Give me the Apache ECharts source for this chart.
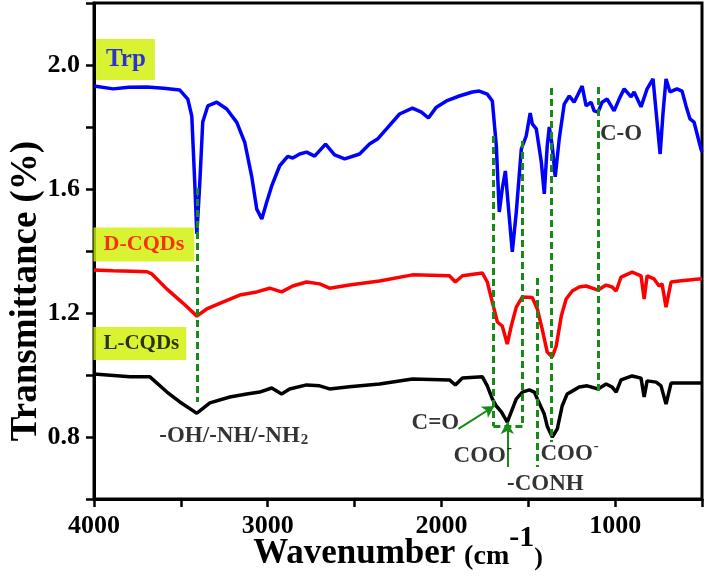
<!DOCTYPE html>
<html><head><meta charset="utf-8">
<script src="https://cdn.jsdelivr.net/npm/echarts@6/dist/echarts.min.js"></script>
<style>html,body{margin:0;padding:0;background:#fff}#c{width:708px;height:578px}</style>
</head><body><div id="c"></div>
<script>
// ---- data ----
const trpWave = [4000,3890,3800,3695,3600,3506,3460,3437,3420,3408,3391,3374,3345,3293,3236,3178,3132,3092,3063,3034,3006,2977,2931,2885,2856,2816,2776,2730,2667,2615,2557,2471,2414,2368,2316,2241,2167,2115,2075,2029,1971,1897,1822,1782,1736,1707,1684,1667,1650,1632,1615,1592,1569,1540,1512,1489,1477,1454,1425,1408,1391,1379,1362,1345,1322,1293,1264,1236,1190,1167,1138,1121,1098,1075,1046,1006,977,948,908,891,851,816,782,764,741,724,707,684,644,615,592,569,546,506,500];
const trpT = [1.932,1.923,1.928,1.929,1.925,1.919,1.89,1.835,1.62,1.455,1.62,1.816,1.868,1.88,1.858,1.815,1.75,1.64,1.535,1.503,1.557,1.61,1.675,1.705,1.70,1.713,1.719,1.706,1.745,1.71,1.697,1.713,1.745,1.761,1.794,1.842,1.861,1.848,1.829,1.864,1.884,1.90,1.913,1.916,1.906,1.884,1.739,1.526,1.60,1.658,1.545,1.397,1.526,1.729,1.771,1.845,1.81,1.794,1.687,1.584,1.739,1.80,1.739,1.639,1.761,1.874,1.90,1.88,1.932,1.868,1.88,1.852,1.848,1.88,1.89,1.852,1.89,1.923,1.897,1.913,1.865,1.923,1.955,1.848,1.713,1.848,1.955,1.913,1.923,1.916,1.868,1.826,1.816,1.729,1.72];
const dWave = [4000,3890,3780,3695,3667,3580,3488,3408,3351,3259,3161,3063,2989,2920,2856,2776,2701,2644,2530,2356,2167,1954,1920,1879,1764,1736,1707,1678,1650,1621,1598,1569,1534,1477,1448,1420,1391,1362,1339,1310,1282,1247,1207,1167,1098,1052,1017,994,966,902,851,833,816,776,747,730,707,678,632,517,500];
const dT = [1.339,1.336,1.335,1.333,1.326,1.277,1.232,1.19,1.213,1.235,1.258,1.268,1.28,1.268,1.287,1.30,1.294,1.28,1.29,1.303,1.323,1.32,1.30,1.32,1.329,1.30,1.235,1.171,1.158,1.10,1.158,1.219,1.252,1.25,1.213,1.148,1.074,1.058,1.094,1.19,1.245,1.271,1.284,1.287,1.274,1.29,1.284,1.271,1.316,1.332,1.32,1.245,1.32,1.31,1.287,1.294,1.219,1.30,1.303,1.31,1.31];
const lWave = [4000,3793,3678,3580,3506,3420,3408,3391,3333,3218,3121,3046,2977,2920,2874,2776,2701,2644,2530,2356,2167,1954,1920,1879,1764,1736,1707,1684,1655,1621,1598,1569,1534,1494,1465,1448,1408,1391,1362,1333,1305,1276,1247,1207,1161,1098,1052,1017,994,966,902,851,833,816,764,736,707,678,632,517,500];
const lT = [1.003,0.994,0.994,0.945,0.913,0.881,0.877,0.884,0.91,0.929,0.939,0.945,0.958,0.939,0.955,0.968,0.965,0.955,0.962,0.971,0.987,0.984,0.968,0.99,0.994,0.965,0.923,0.90,0.881,0.848,0.881,0.923,0.945,0.952,0.945,0.923,0.874,0.835,0.80,0.826,0.90,0.939,0.948,0.961,0.965,0.955,0.971,0.961,0.945,0.984,0.997,0.99,0.929,0.981,0.977,0.965,0.906,0.974,0.974,0.974,0.974];

const xTickLabels = [4000, 3000, 2000, 1000];
const yTickLabels = [0.8, 1.2, 1.6, 2.0];

// dashed band markers: [wavenumber, top value, bottom value]
const bandLines = [[3408,1.603,0.913],[1701,1.771,0.835],[1534,1.755,0.835],[1368,1.926,0.784],[1448,1.313,0.703],[1098,1.929,0.945]];
const bandJoin = [[1701,0.835],[1534,0.835]];
// arrows: [from, to]
const arrowPairs = [[[1902,0.826],[1695,0.90]], [[1621,0.703],[1621,0.848]]];

// sample tags: [name, wavenumber, value, text colour]
const sampleTags = [['Trp',3819,2.018,'#0000ff'],['D-CQDs',3713,1.421,'#ff0000'],['L-CQDs',3736,1.102,'#000000']];
// band annotations: [rich text, wavenumber, value]
const bandTags = [
  ['{m|-OH/-NH/-NH}{sub|2}', 3195, 0.814],
  ['{t|C=O}', 2035, 0.845],
  ['{m|COO}{sup|-}', 1762, 0.745],
  ['{m|COO}{sup|-}', 1262, 0.752],
  ['{t|-CONH}', 1402, 0.648],
  ['{t|C-O}', 966, 1.777]
];

// ---- chart ----
const FONT = '"Times New Roman", "Liberation Serif", serif';
const GREEN = '#178a17';
const zip = (a, b) => a.map((w, i) => [w, b[i]]);
const chart = echarts.init(document.getElementById('c'));

const tagSize = {Trp: 25, 'D-CQDs': 22, 'L-CQDs': 21};
const tagPad = {Trp: [8,9,8,10], 'D-CQDs': [6,10,6,10], 'L-CQDs': [6,7,6,10]};

const markData = bandLines.map(b => [{coord:[b[0], b[1]]},{coord:[b[0], b[2]]}]);
markData.push([{coord: bandJoin[0]}, {coord: bandJoin[1]}]);

const noBorder = {textBorderWidth: 0, textBorderColor: 'transparent', textShadowBlur: 0};

chart.setOption({
  animation: false,
  backgroundColor: '#fff',
  grid: {left: 94, right: 6, top: 3, bottom: 79, show: true, borderColor: '#000', borderWidth: 3,
    containLabel: false, outerBoundsMode: 'none'},
  xAxis: {
    type: 'value', inverse: true, min: 500, max: 4000, interval: 500,
    name: '{a|Wavenumber }{b|(cm}{c|-1}{d|)}', nameLocation: 'middle', nameGap: 24, nameMoveOverlap: false,
    nameTextStyle: {
      fontFamily: FONT, fontWeight: 'bold', color: '#000',
      rich: {
        a: {fontFamily: FONT, fontWeight: 'bold', fontSize: 35, verticalAlign: 'bottom'},
        b: {fontFamily: FONT, fontWeight: 'bold', fontSize: 28, verticalAlign: 'bottom'},
        c: {fontFamily: FONT, fontWeight: 'bold', fontSize: 30, verticalAlign: 'top', padding: [0,0,18,0]},
        d: {fontFamily: FONT, fontWeight: 'bold', fontSize: 26, verticalAlign: 'bottom'}
      }
    },
    axisLine: {show: true, lineStyle: {color: '#000', width: 3}},
    axisTick: {show: true, length: 8, lineStyle: {color: '#000', width: 2.5}},
    axisLabel: {margin: 14, fontFamily: FONT, fontWeight: 'bold', fontSize: 26, color: '#000',
      formatter: v => xTickLabels.includes(Math.round(v)) ? String(Math.round(v)) : ''},
    splitLine: {show: false}
  },
  yAxis: {
    type: 'value', min: 0.6, max: 2.2, interval: 0.2,
    name: 'Transmittance (%)', nameLocation: 'middle', nameGap: 49, nameMoveOverlap: false,
    nameTextStyle: {fontFamily: FONT, fontWeight: 'bold', fontSize: 37, color: '#000', padding: [0, 80, 0, 0]},
    axisLine: {show: true, lineStyle: {color: '#000', width: 3}},
    axisTick: {show: true, length: 8, lineStyle: {color: '#000', width: 2.5}},
    axisLabel: {margin: 14, fontFamily: FONT, fontWeight: 'bold', fontSize: 26, color: '#000',
      formatter: v => yTickLabels.some(t => Math.abs(t - v) < 1e-6) ? v.toFixed(1) : ''},
    splitLine: {show: false}
  },
  series: [
    {type: 'line', name: 'Trp', data: zip(trpWave, trpT), showSymbol: false, symbol: 'none',
      lineStyle: {color: '#0000ff', width: 3.5}, itemStyle: {color: '#0000ff'}, z: 3},
    {type: 'line', name: 'D-CQDs', data: zip(dWave, dT), showSymbol: false, symbol: 'none',
      lineStyle: {color: '#ff0000', width: 3.5}, itemStyle: {color: '#ff0000'}, z: 3},
    {type: 'line', name: 'L-CQDs', data: zip(lWave, lT), showSymbol: false, symbol: 'none',
      lineStyle: {color: '#000000', width: 3.5}, itemStyle: {color: '#000'}, z: 3},
    {type: 'line', data: [], z: 5, silent: true,
      markLine: {silent: true, symbol: ['none','none'], animation: false,
        lineStyle: {color: GREEN, width: 3, type: [7,4]}, label: {show: false},
        data: markData}},
    {type: 'line', data: [], z: 6, silent: true,
      markLine: {silent: true, symbol: ['none','arrow'], symbolSize: [10, 12], animation: false,
        lineStyle: {color: GREEN, width: 2, type: 'solid'}, label: {show: false},
        data: arrowPairs.map(p => [{coord: p[0]}, {coord: p[1]}])}},
    {type: 'scatter', z: 8, silent: true, symbolSize: 1, itemStyle: {color: 'rgba(0,0,0,0)'},
      data: sampleTags.map(t => ({value: [t[1], t[2]], label: Object.assign({
        show: true, position: 'inside', formatter: t[0], color: t[3], fontFamily: FONT, fontWeight: 'bold',
        fontSize: tagSize[t[0]], backgroundColor: '#cff000', padding: tagPad[t[0]]}, noBorder)}))},
    {type: 'scatter', z: 8, silent: true, symbolSize: 1, itemStyle: {color: 'rgba(0,0,0,0)'},
      data: bandTags.map(t => ({value: [t[1], t[2]], label: Object.assign({
        show: true, position: 'inside', formatter: t[0], color: '#000',
        rich: {
          t: Object.assign({fontFamily: FONT, fontWeight: 'bold', fontSize: 23, color: '#000'}, noBorder),
          m: Object.assign({fontFamily: FONT, fontWeight: 'bold', fontSize: 23, color: '#000', verticalAlign: 'bottom'}, noBorder),
          sup: Object.assign({fontFamily: FONT, fontWeight: 'bold', fontSize: 15, color: '#000', verticalAlign: 'top', padding: [0,0,12,1]}, noBorder),
          sub: Object.assign({fontFamily: FONT, fontWeight: 'bold', fontSize: 15, color: '#000', verticalAlign: 'bottom', padding: [14,0,0,1]}, noBorder)
        }}, noBorder)}))}
  ]
});
</script></body></html>
